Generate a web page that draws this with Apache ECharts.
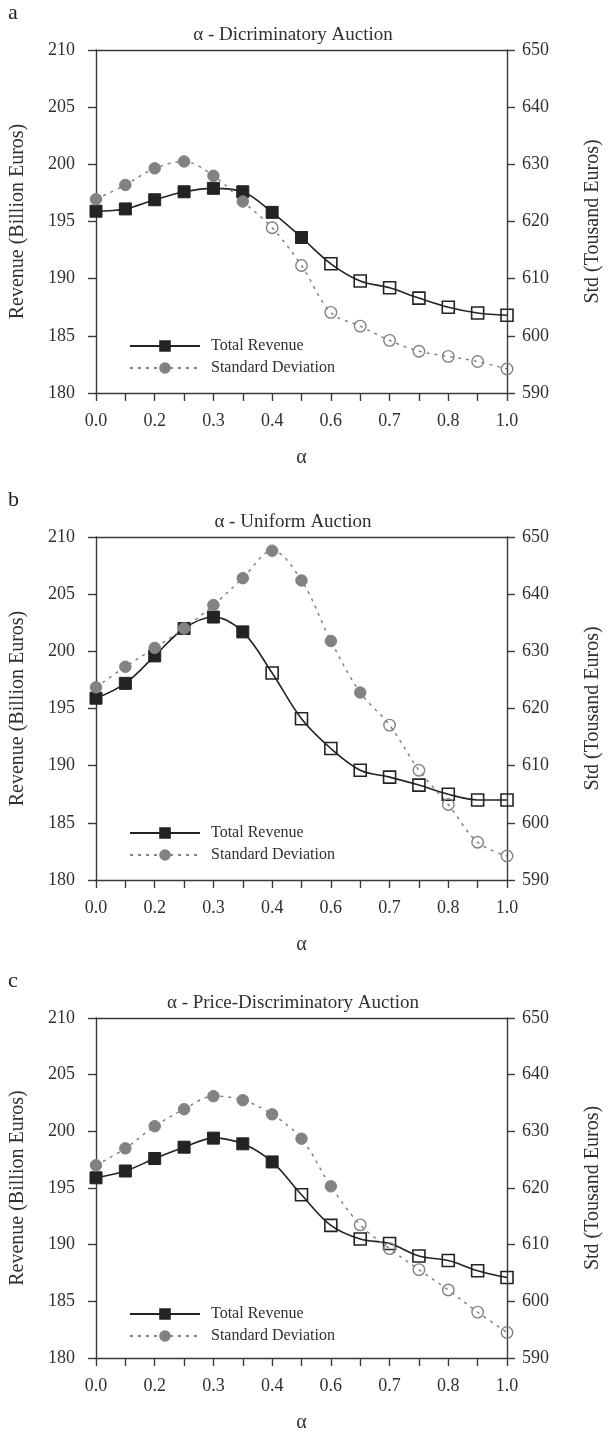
<!DOCTYPE html>
<html>
<head>
<meta charset="utf-8">
<script src="https://cdn.jsdelivr.net/npm/echarts@6/dist/echarts.min.js"></script>
<style>
html,body{margin:0;padding:0;background:#fff;}
#chart{width:611px;height:1434px;}
</style>
</head>
<body>
<div id="chart"></div>
<script>
// ---- data ----
const categories = ['0.0','0.1','0.2','0.25','0.3','0.35','0.4','0.5','0.6','0.65','0.7','0.75','0.8','0.9','1.0'];
const panelLetters = ['a','b','c'];
const panelTitles = ['\u03b1 - Dicriminatory Auction','\u03b1 - Uniform Auction','\u03b1 - Price-Discriminatory Auction'];
const revenueA = [195.9,196.1,196.9,197.6,197.9,197.6,195.8,193.6,191.3,189.8,189.2,188.3,187.5,187.0,186.8];
const stdA     = [623.9,626.4,629.3,630.5,628.0,623.5,618.9,612.3,604.1,601.7,599.2,597.3,596.4,595.5,594.2];
const revenueB = [195.9,197.2,199.6,202.0,203.0,201.7,198.1,194.1,191.5,189.6,189.0,188.3,187.5,187.0,187.0];
const stdB     = [623.7,627.3,630.6,634.0,638.1,642.8,647.6,642.4,631.8,622.8,617.1,609.2,603.2,596.6,594.2];
const revenueC = [195.9,196.5,197.6,198.6,199.4,198.9,197.3,194.4,191.7,190.5,190.1,189.0,188.6,187.7,187.1];
const stdC     = [624.0,627.0,630.9,633.9,636.2,635.5,633.0,628.7,620.3,613.5,609.3,605.6,602.0,598.1,594.5];
// number of leading markers drawn filled (the rest are hollow)
const revenueFilled = [8, 6, 7];
const stdFilled = [6, 10, 9];
const revenueTicks = {min: 180, max: 210, interval: 5};
const stdTicks = {min: 590, max: 650, interval: 10};
const seriesNames = ['Total Revenue', 'Standard Deviation'];

// ---- layout ----
const revenues = [revenueA, revenueB, revenueC];
const stds = [stdA, stdB, stdC];
const gridTops = [50, 537, 1018];
const gridHeight = 343;
const gridLeft = 96, gridWidth = 420;
const FONT = '"Liberation Serif", "Times New Roman", serif';
const TXT = '#303030';
const AX = '#3a3a3a';
const REV = '#232323';
const STD = '#828282';

const option = {
  animation: false,
  backgroundColor: '#fff',
  textStyle: {fontFamily: FONT, color: TXT},
  grid: [], xAxis: [], yAxis: [], series: [], legend: [], graphic: []
};

for (let p = 0; p < 3; p++) {
  const top = gridTops[p];
  option.grid.push({left: gridLeft, top: top, width: gridWidth, height: gridHeight});
  option.xAxis.push({
    type: 'category', gridIndex: p, data: categories, boundaryGap: false,
    name: '\u03b1', nameLocation: 'middle', nameGap: 55,
    nameTextStyle: {fontFamily: FONT, fontSize: 20, color: TXT},
    axisLine: {lineStyle: {color: AX, width: 1.4}},
    axisTick: {show: true, interval: 0, length: 8, inside: false, lineStyle: {color: AX, width: 1.4}},
    axisLabel: {interval: 1, fontFamily: FONT, fontSize: 18, color: TXT, margin: 19},
    splitLine: {show: false}
  });
  option.xAxis.push({
    type: 'category', gridIndex: p, data: categories, boundaryGap: false, position: 'top',
    axisLine: {lineStyle: {color: AX, width: 1.4}},
    axisTick: {show: false}, axisLabel: {show: false}, splitLine: {show: false}
  });
  option.yAxis.push({
    type: 'value', gridIndex: p, position: 'left',
    min: revenueTicks.min, max: revenueTicks.max, interval: revenueTicks.interval,
    name: 'Revenue (Billion Euros)', nameLocation: 'middle', nameGap: 68, nameRotate: 90,
    nameTextStyle: {fontFamily: FONT, fontSize: 20, color: TXT},
    axisLine: {show: true, lineStyle: {color: AX, width: 1.4}},
    axisTick: {show: true, length: 8, lineStyle: {color: AX, width: 1.4}},
    axisLabel: {fontFamily: FONT, fontSize: 18, color: TXT, margin: 21},
    splitLine: {show: false}
  });
  option.yAxis.push({
    type: 'value', gridIndex: p, position: 'right',
    min: stdTicks.min, max: stdTicks.max, interval: stdTicks.interval,
    name: 'Std (Tousand Euros)', nameLocation: 'middle', nameGap: 76, nameRotate: 90,
    nameTextStyle: {fontFamily: FONT, fontSize: 20, color: TXT},
    axisLine: {show: true, lineStyle: {color: AX, width: 1.4}},
    axisTick: {show: true, length: 8, lineStyle: {color: AX, width: 1.4}},
    axisLabel: {fontFamily: FONT, fontSize: 18, color: TXT, margin: 15},
    splitLine: {show: false}
  });

  const revData = revenues[p].map((v, i) => i < revenueFilled[p] ? v :
    {value: v, itemStyle: {color: 'rgba(255,255,255,0)', borderColor: REV, borderWidth: 1.6}});
  const stdData = stds[p].map((v, i) => i < stdFilled[p] ? v :
    {value: v, itemStyle: {color: 'rgba(255,255,255,0)', borderColor: STD, borderWidth: 1.4}});

  option.series.push({
    name: seriesNames[0], type: 'line', xAxisIndex: 2 * p, yAxisIndex: 2 * p,
    data: revData, smooth: 0.35, symbol: 'rect', symbolSize: 12,
    lineStyle: {color: REV, width: 1.6},
    itemStyle: {color: REV, borderColor: REV, borderWidth: 1}
  });
  option.series.push({
    name: seriesNames[1], type: 'line', xAxisIndex: 2 * p, yAxisIndex: 2 * p + 1,
    data: stdData, smooth: 0.35, symbol: 'circle', symbolSize: 11.5,
    lineStyle: {color: STD, width: 1.5, type: [3, 5]},
    itemStyle: {color: STD, borderColor: STD, borderWidth: 1}
  });

  option.legend.push({
    data: seriesNames, orient: 'vertical', left: 124, top: top + 283,
    itemWidth: 70, itemHeight: 12, itemGap: 6,
    textStyle: {fontFamily: FONT, fontSize: 16, color: TXT, padding: [0, 0, 0, 6]},
    selectedMode: false
  });

  option.graphic.push({
    type: 'text', x: 8, y: top - 37,
    style: {text: panelLetters[p], font: '22px ' + FONT, fill: '#222', textVerticalAlign: 'middle'}
  });
  option.graphic.push({
    type: 'text', x: 293, y: top - 15,
    style: {text: panelTitles[p], font: '19px ' + FONT, fill: TXT, textAlign: 'center', textVerticalAlign: 'middle'}
  });
}

const chart = echarts.init(document.getElementById('chart'), null, {renderer: 'canvas'});
chart.setOption(option);
</script>
</body>
</html>
